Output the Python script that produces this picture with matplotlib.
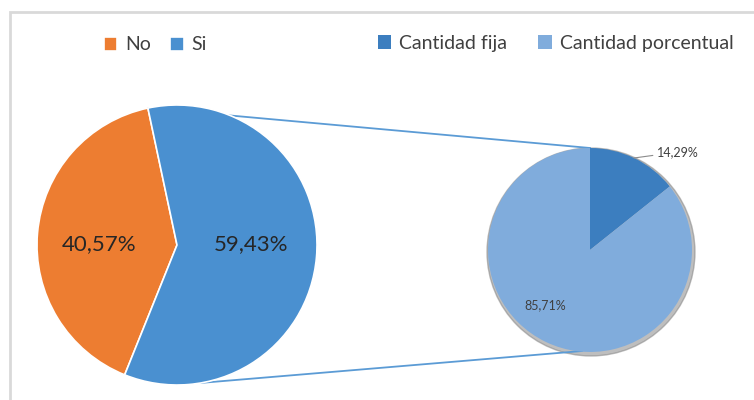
import numpy as np
import matplotlib.pyplot as plt
from matplotlib.patches import Rectangle, Circle

plt.rcParams['font.family'] = ['Lato', 'DejaVu Sans']

# main pie
main_labels = ['No', 'Si']
main_values = [40.57, 59.43]
main_colors = ['#ED7D31', '#4A90D0']
main_text = ['40,57%', '59,43%']

# secondary pie (breakdown of "Si")
sub_labels = ['Cantidad fija', 'Cantidad porcentual']
sub_values = [14.29, 85.71]
sub_colors = ['#3C7EBF', '#80ACDC']
sub_text = ['14,29%', '85,71%']

fig = plt.figure(figsize=(7.54, 4.0), dpi=100)
ax = fig.add_axes([0, 0, 1, 1])

# light frame around the chart area
fig.patches.append(Rectangle((10 / 754, -0.1), 1.2, 1.1 - 12 / 400, transform=fig.transFigure,
                             fill=False, edgecolor='#D9D9D9', linewidth=2))

c1, r1 = (177, 155), 140
c2, r2 = (590, 150), 102

w1, _ = ax.pie(main_values, colors=main_colors, center=c1, radius=r1, startangle=102,
               counterclock=True, wedgeprops=dict(edgecolor='white', linewidth=1.2),
               frame=True)

# soft shadow behind the secondary pie
ax.add_patch(Circle((c2[0] + 1, c2[1] - 2), r2 + 2, color='#7F7F7F', alpha=0.5, zorder=0))
w2, _ = ax.pie(sub_values, colors=sub_colors, center=c2, radius=r2, startangle=90,
               counterclock=False, wedgeprops=dict(linewidth=0), frame=True)
ax.set_xlim(0, 754)
ax.set_ylim(0, 400)
ax.set_aspect('equal')
ax.axis('off')

# labels on the main pie
ax.text(99, 156, main_text[0], ha='center', va='center', fontsize=16, color='#262626')
ax.text(251, 156, main_text[1], ha='center', va='center', fontsize=16, color='#262626')

# labels on the secondary pie
ax.annotate(sub_text[0], xy=(634, 242), xytext=(657, 248), fontsize=9, color='#404040',
            va='center', ha='left',
            arrowprops=dict(arrowstyle='-', color='#8C8C8C', lw=0.8, shrinkA=1, shrinkB=0))
ax.text(545, 95, sub_text[1], ha='center', va='center', fontsize=9, color='#404040')

# connector lines
a_top, a_bot = np.deg2rad(102), np.deg2rad(280)
ax.plot([c1[0] + r1 * np.cos(a_top), c2[0]], [c1[1] + r1 * np.sin(a_top), c2[1] + r2],
        color='#5B9BD5', lw=1.3, zorder=0)
ax.plot([c1[0] + r1 * np.cos(a_bot), c2[0] - 8], [c1[1] + r1 * np.sin(a_bot), c2[1] - r2 + 1],
        color='#5B9BD5', lw=1.3, zorder=0)

leg_kw = dict(frameon=False, ncol=2, handlelength=0.7, handleheight=0.7, handletextpad=0.4,
              fontsize=14, labelcolor='#404040', borderaxespad=0)
leg1 = ax.legend(w1, main_labels, loc='center', bbox_to_anchor=(0.206, 0.8875),
                 columnspacing=1.0, **leg_kw)
ax.add_artist(leg1)
ax.legend(w2, sub_labels, loc='center', bbox_to_anchor=(0.737, 0.8925),
          columnspacing=1.6, **leg_kw)

fig.savefig('out.png', dpi=100)
